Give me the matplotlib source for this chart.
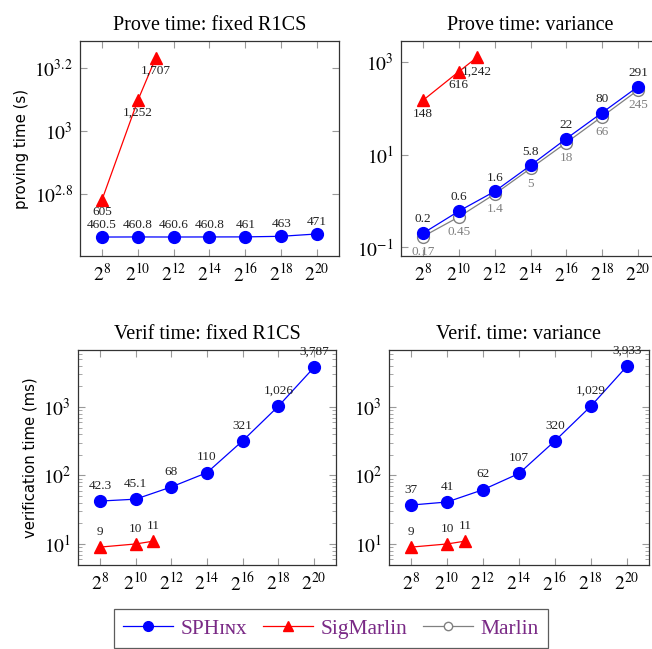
import numpy as np
import matplotlib
matplotlib.use("Agg")
import matplotlib.pyplot as plt
from matplotlib.ticker import FixedLocator, FuncFormatter, LogLocator, NullFormatter, NullLocator
from matplotlib.lines import Line2D

plt.rcParams['font.family'] = ['Liberation Serif', 'DejaVu Serif']
plt.rcParams['mathtext.fontset'] = 'stix'

# data
sizes = [2**8, 2**10, 2**12, 2**14, 2**16, 2**18, 2**20]
sig_sizes = [2**8, 2**10, 2**11]

prove_fixed_sphinx = [460.5, 460.8, 460.6, 460.8, 461, 463, 471]
prove_fixed_sig = [605, 1252, 1707]

prove_var_sphinx = [0.2, 0.6, 1.6, 5.8, 22, 80, 291]
prove_var_marlin = [0.17, 0.45, 1.4, 5, 18, 66, 245]
prove_var_sig = [148, 616, 1242]

verif_fixed_sphinx = [42.3, 45.1, 68, 110, 321, 1026, 3787]
verif_fixed_sig = [9, 10, 11]

verif_var_sphinx = [37, 41, 62, 107, 320, 1029, 3933]
verif_var_sig = [9, 10, 11]

BLUE = '#0000ff'
RED = '#ff0000'
GRAY = '#808080'
PURPLE = '#7a2a86'


def fmt(v):
    if float(v).is_integer():
        return f"{int(v):,}"
    return str(v)


def label_points(ax, xs, ys, dy, color='#222222'):
    for x, y in zip(xs, ys):
        ax.annotate(fmt(y), (x, y), xytext=(0, dy), textcoords='offset points',
                    ha='center', va='center', fontsize=9.5, color=color)


def style_axis(ax, ylim):
    ax.set_xscale('log', base=2)
    ax.set_yscale('log')
    ax.set_xlim(2**6.77, 2**21.23)
    ax.set_ylim(*ylim)
    ax.xaxis.set_major_locator(FixedLocator(sizes))
    ax.xaxis.set_minor_locator(NullLocator())
    ax.xaxis.set_major_formatter(FuncFormatter(lambda v, p: r'$2^{%d}$' % round(np.log2(v))))
    ax.tick_params(which='major', direction='in', length=5, width=0.8, color='#999999',
                   top=True, right=True, labelsize=14, pad=5)
    ax.tick_params(which='minor', direction='in', length=3, width=0.6, color='#999999',
                   top=False, right=True)
    for s in ax.spines.values():
        s.set_linewidth(0.9)
        s.set_color('#333333')


fig = plt.figure(figsize=(6.52, 6.49), dpi=100)
W, H = 652, 649


def add_ax(left, top, width, height):
    return fig.add_axes([left / W, (H - top - height) / H, width / W, height / H])


ax1 = add_ax(80, 41, 259, 215)
ax2 = add_ax(401, 41, 259, 215)
ax3 = add_ax(78, 350, 258, 215)
ax4 = add_ax(389, 350, 260, 215)

mk = dict(marker='o', markersize=8.5, linewidth=0.9)
tri = dict(marker='^', markersize=8, linewidth=0.9)

# Prove time: fixed R1CS
style_axis(ax1, (10**2.603, 10**3.286))
ax1.plot(sizes, prove_fixed_sphinx, color=BLUE, **mk)
ax1.plot(sig_sizes, prove_fixed_sig, color=RED, **tri)
label_points(ax1, sizes, prove_fixed_sphinx, 8.5)
label_points(ax1, sig_sizes, prove_fixed_sig, -9)
ax1.yaxis.set_major_locator(FixedLocator([10**2.8, 10**3, 10**3.2]))
ax1.yaxis.set_minor_locator(NullLocator())
ax1.yaxis.set_major_formatter(FuncFormatter(lambda v, p: r'$10^{%g}$' % round(np.log10(v), 1)))
ax1.set_ylabel('proving time (s)', family='DejaVu Sans', fontsize=10.8)
ax1.set_title('Prove time: fixed R1CS', fontsize=14.5, pad=8)

# Prove time: variance
style_axis(ax2, (10**-1.19, 10**3.45))
ax2.plot(sizes, prove_var_marlin, color=GRAY, marker='o', markersize=8.5, linewidth=0.9,
         markerfacecolor='white', markeredgecolor=GRAY)
ax2.plot(sizes, prove_var_sphinx, color=BLUE, **mk)
ax2.plot(sig_sizes, prove_var_sig, color=RED, **tri)
label_points(ax2, sizes, prove_var_sphinx, 10)
label_points(ax2, sizes, prove_var_marlin, -11, color=GRAY)
label_points(ax2, sig_sizes, prove_var_sig, -10)
ax2.yaxis.set_major_locator(FixedLocator([1e-1, 1e1, 1e3]))
ax2.yaxis.set_minor_locator(NullLocator())
ax2.yaxis.set_major_formatter(FuncFormatter(lambda v, p: r'$10^{%d}$' % round(np.log10(v))))
ax2.set_title('Prove time: variance', fontsize=14.5, pad=8)

# Verification panels
for ax, sph, sig, title in [(ax3, verif_fixed_sphinx, verif_fixed_sig, 'Verif time: fixed R1CS'),
                            (ax4, verif_var_sphinx, verif_var_sig, 'Verif. time: variance')]:
    style_axis(ax, (10**0.693, 10**3.832))
    ax.plot(sizes, sph, color=BLUE, **mk)
    ax.plot(sig_sizes, sig, color=RED, **tri)
    label_points(ax, sizes, sph, 11)
    label_points(ax, sig_sizes, sig, 11)
    ax.yaxis.set_major_locator(FixedLocator([1e1, 1e2, 1e3]))
    ax.yaxis.set_minor_locator(LogLocator(base=10, subs=np.arange(2, 10)))
    ax.yaxis.set_minor_formatter(NullFormatter())
    ax.yaxis.set_major_formatter(FuncFormatter(lambda v, p: r'$10^{%d}$' % round(np.log10(v))))
    ax.set_title(title, fontsize=14.5, pad=8)
ax3.set_ylabel('verification time (ms)', family='DejaVu Sans', fontsize=10.7)

handles = [
    Line2D([], [], color=BLUE, marker='o', markersize=7, linewidth=0.9),
    Line2D([], [], color=RED, marker='^', markersize=7, linewidth=0.9),
    Line2D([], [], color=GRAY, marker='o', markersize=6, linewidth=0.9,
           markerfacecolor='white', markeredgecolor=GRAY),
]
leg = fig.legend(handles, ['SPHɪɴx', 'SigMarlin', 'Marlin'], loc='upper center',
                 bbox_to_anchor=(331 / W, 1 - 609 / H), ncol=3, fontsize=15.5,
                 frameon=True, fancybox=False, edgecolor='#333333', handlelength=2.3,
                 handletextpad=0.35, columnspacing=0.75, borderpad=0.45, borderaxespad=0)
leg.get_frame().set_linewidth(0.9)
for t in leg.get_texts():
    t.set_color(PURPLE)

fig.savefig('out.png', dpi=100)
